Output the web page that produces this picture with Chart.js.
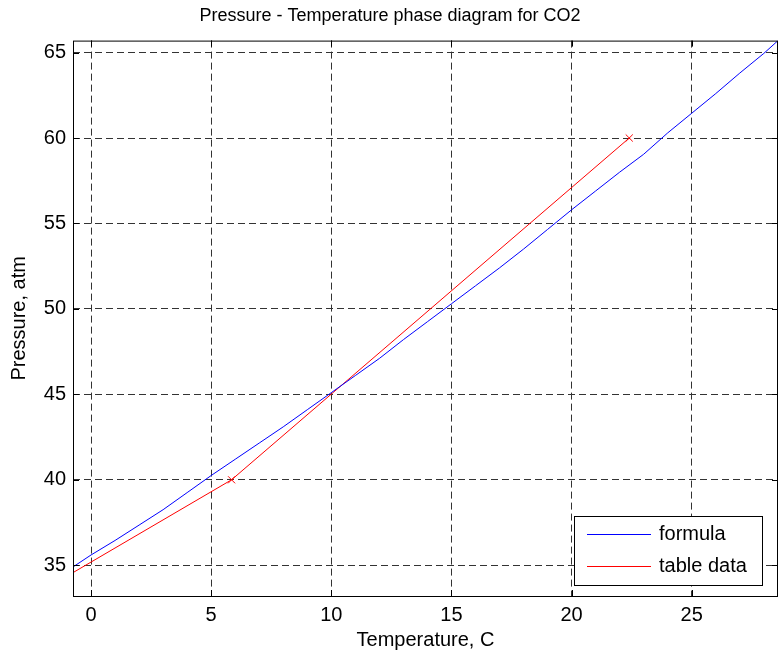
<!DOCTYPE html>
<html>
<head>
<meta charset="utf-8">
<script src="https://cdn.jsdelivr.net/npm/chart.js@4/dist/chart.umd.min.js"></script>
<style>
  html, body { margin: 0; padding: 0; background: #fff; }
  #wrap { width: 784px; height: 657px; position: relative; }
</style>
</head>
<body>
<div id="wrap"><canvas id="grafico"></canvas></div>
<script>
// valores (temperatura em C, pressão em atm)
var tempFormula = [-0.75, 0, 1, 2, 3, 4, 5, 6, 7, 8, 9, 10, 11, 12, 13, 14, 15, 16, 17, 18, 19, 20, 21, 22, 23, 24, 25, 26, 27, 28, 28.59];
var pressFormula = [34.9, 35.6, 36.45, 37.35, 38.25, 39.25, 40.25, 41.2, 42.15, 43.1, 44.1, 45.1, 46.1, 47.1, 48.2, 49.25, 50.3, 51.35, 52.4, 53.5, 54.65, 55.8, 56.9, 58.0, 59.05, 60.3, 61.45, 62.6, 63.8, 64.95, 65.7];
var tempTabela = [-6.3, 5.85, 22.4];
var pressTabela = [30, 40, 60];
var xTicks = [0, 5, 10, 15, 20, 25];
var yTicks = [35, 40, 45, 50, 55, 60, 65];

var FONTE = "'Liberation Sans', Arial, sans-serif";

function pares(xs, ys) {
  return xs.map(function (x, i) { return { x: x, y: ys[i] }; });
}

// caixa dos eixos, marcas internas e legenda no estilo do MATLAB
var caixa = {
  id: "caixaMatlab",
  afterDraw: function (c) {
    var ctx = c.ctx, a = c.chartArea, xs = c.scales.x, ys = c.scales.y;
    ctx.save();
    ctx.strokeStyle = "#000"; ctx.lineWidth = 1;
    ctx.strokeRect(a.left + 0.5, a.top + 0.5, a.right - a.left - 1, a.bottom - a.top);
    ctx.beginPath();
    xTicks.forEach(function (v) {
      var px = Math.round(xs.getPixelForValue(v)) + 0.5;
      ctx.moveTo(px, a.bottom); ctx.lineTo(px, a.bottom - 6);
      ctx.moveTo(px, a.top); ctx.lineTo(px, a.top + 6);
    });
    yTicks.forEach(function (v) {
      var py = Math.round(ys.getPixelForValue(v)) + 0.5;
      ctx.moveTo(a.left, py); ctx.lineTo(a.left + 6, py);
      ctx.moveTo(a.right, py); ctx.lineTo(a.right - 6, py);
    });
    ctx.stroke();

    // legenda
    var w = 188, h = 69;
    var lx = a.right - 16 - w, ly = a.bottom - 11 - h;
    ctx.fillStyle = "#fff";
    ctx.fillRect(lx, ly, w, h);
    ctx.strokeRect(lx + 0.5, ly + 0.5, w, h);
    ctx.font = "20px " + FONTE;
    ctx.textBaseline = "middle";
    c.data.datasets.forEach(function (ds, i) {
      var yy = ly + 18 + i * 32 + 0.5;
      ctx.strokeStyle = ds.borderColor;
      ctx.beginPath(); ctx.moveTo(lx + 13, yy); ctx.lineTo(lx + 77, yy); ctx.stroke();
      ctx.fillStyle = "#000";
      ctx.fillText(ds.label, lx + 85, yy);
    });
    ctx.restore();
  }
};

new Chart(document.getElementById("grafico"), {
  type: "line",
  data: {
    datasets: [
      { label: "formula", data: pares(tempFormula, pressFormula), borderColor: "#0000ff",
        borderWidth: 1, pointRadius: 0, tension: 0, fill: false },
      { label: "table data", data: pares(tempTabela, pressTabela), borderColor: "#ff0000",
        backgroundColor: "#ff0000", borderWidth: 1, pointRadius: 5, pointStyle: "crossRot",
        pointBorderWidth: 1, tension: 0, fill: false }
    ]
  },
  plugins: [caixa],
  options: {
    responsive: true, maintainAspectRatio: false, animation: false,
    layout: { padding: { left: 0, right: 4, top: 0, bottom: 0 } },
    scales: {
      x: {
        type: "linear", min: -0.75, max: 28.59,
        afterFit: function (s) { s.height = 61; },
        afterBuildTicks: function (s) { s.ticks = xTicks.map(function (v) { return { value: v }; }); },
        ticks: { color: "#000", font: { family: FONTE, size: 20 }, padding: 7, includeBounds: false },
        grid: { color: "#333", drawTicks: false },
        border: { display: false, dash: [7, 4] },
        title: { display: true, text: "Temperature, C", color: "#000",
          font: { family: FONTE, size: 20 }, padding: { top: 0, bottom: 5 } }
      },
      y: {
        type: "linear", min: 33.2, max: 65.7,
        afterFit: function (s) { s.width = 73; },
        afterBuildTicks: function (s) { s.ticks = yTicks.map(function (v) { return { value: v }; }); },
        ticks: { color: "#000", font: { family: FONTE, size: 20 }, padding: 7, includeBounds: false },
        grid: { color: "#333", drawTicks: false },
        border: { display: false, dash: [7, 4] },
        title: { display: true, text: "Pressure, atm", color: "#000",
          font: { family: FONTE, size: 20 }, padding: { top: 7, bottom: 0 } }
      }
    },
    plugins: {
      legend: { display: false },
      tooltip: { enabled: false },
      title: { display: true, text: "Pressure - Temperature phase diagram for CO2", color: "#000",
        font: { family: FONTE, size: 18, weight: "normal" }, padding: { top: 5, bottom: 14 } }
    }
  }
});
</script>
</body>
</html>
